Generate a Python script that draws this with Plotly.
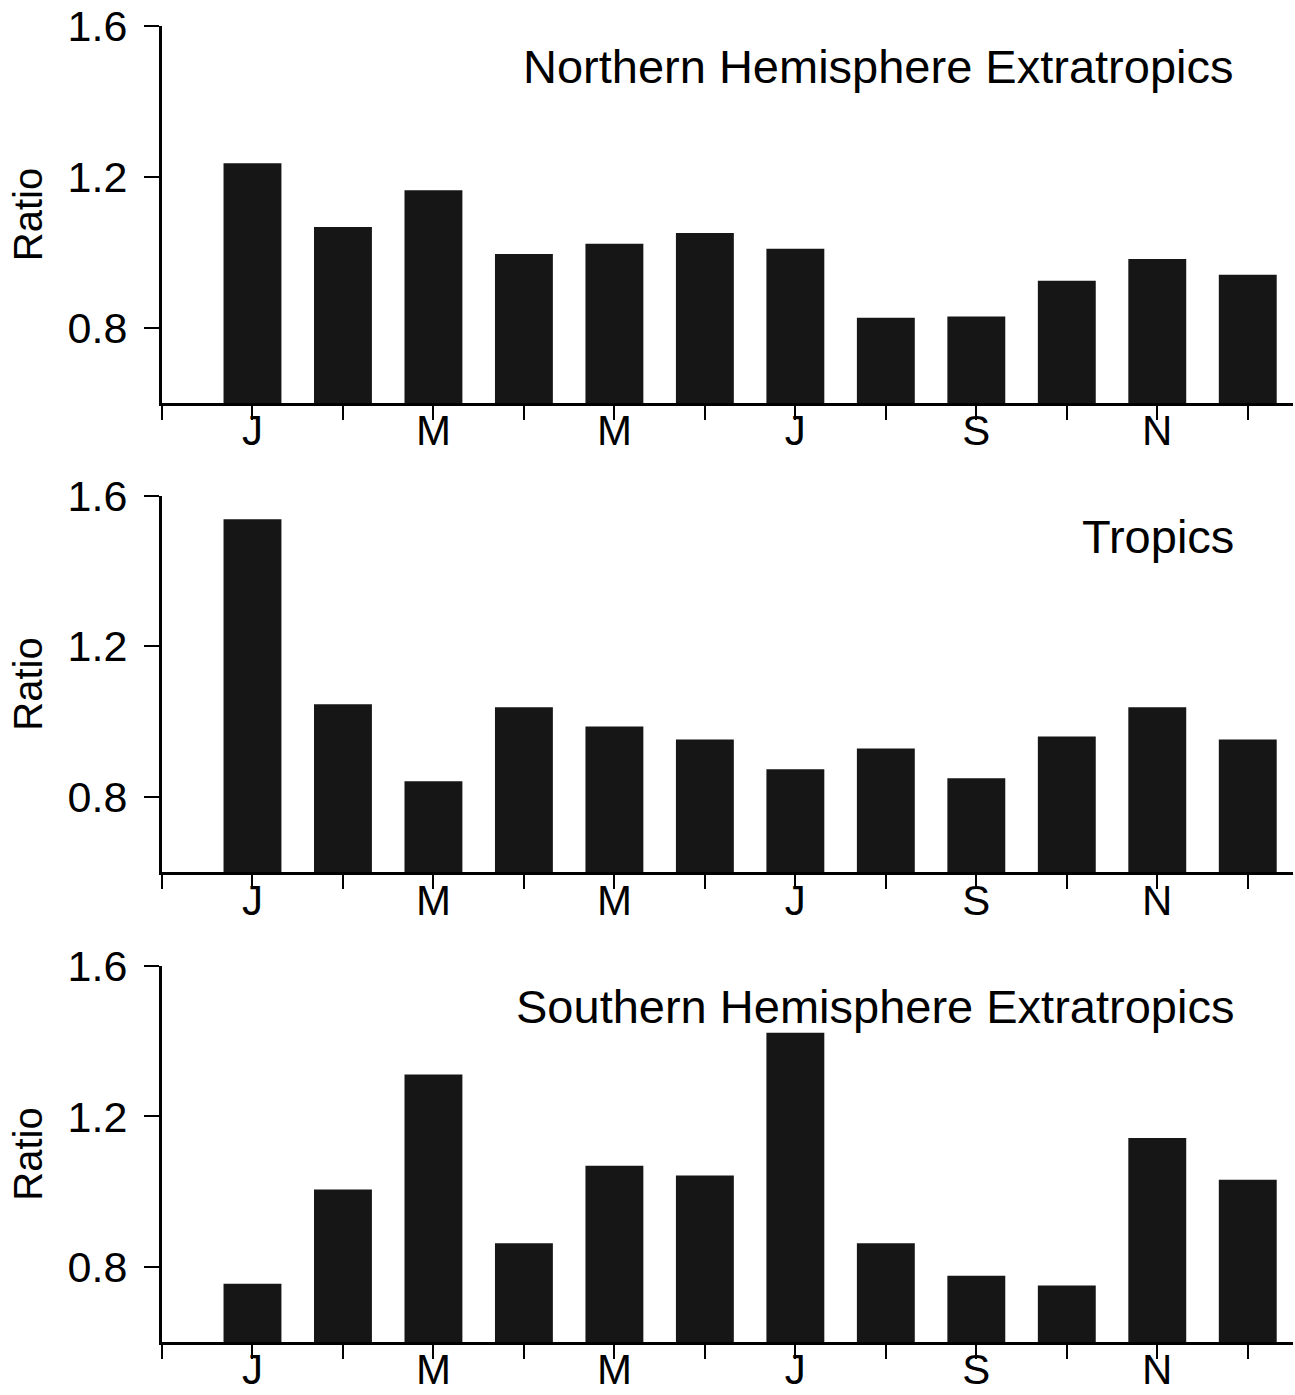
import plotly.graph_objects as go

months = list(range(1, 13))
tick_positions = list(range(0, 13))
tick_labels = ["", "J", "", "M", "", "M", "", "J", "", "S", "", "N", ""]

nh_values = [1.236, 1.067, 1.164, 0.995, 1.022, 1.051, 1.009, 0.826, 0.829, 0.924, 0.982, 0.940]
tr_values = [1.537, 1.046, 0.842, 1.038, 0.987, 0.953, 0.874, 0.929, 0.850, 0.961, 1.038, 0.953]
sh_values = [0.755, 1.006, 1.312, 0.863, 1.069, 1.043, 1.423, 0.863, 0.776, 0.750, 1.143, 1.032]

panel_titles = ["Northern Hemisphere Extratropics", "Tropics", "Southern Hemisphere Extratropics"]
panel_values = [nh_values, tr_values, sh_values]
y_ticks = [0.8, 1.2, 1.6]

domains = [[0.7136, 1.0], [0.3568, 0.6432], [0.0, 0.2856]]

FONT = "Liberation Sans, Arial, Helvetica, sans-serif"
BAR = "#161616"

fig = go.Figure()
layout = dict(
    width=1295, height=1395,
    margin=dict(l=162, r=2, t=22, b=39),
    paper_bgcolor="white", plot_bgcolor="white",
    showlegend=False,
    font=dict(family=FONT, color="black"),
    annotations=[],
)

for i, (vals, title) in enumerate(zip(panel_values, panel_titles)):
    n = "" if i == 0 else str(i + 1)
    fig.add_trace(go.Bar(
        x=months, y=vals,
        xaxis="x" + n, yaxis="y" + n,
        marker=dict(color=BAR, line=dict(width=0)),
        width=0.64,
    ))
    layout["xaxis" + n] = dict(
        domain=[0, 1], anchor="y" + n,
        range=[0, 12.5],
        tickmode="array", tickvals=tick_positions, ticktext=tick_labels,
        ticks="outside", ticklen=14, tickwidth=2, tickcolor="black",
        showline=True, linewidth=3, linecolor="black",
        showgrid=False, zeroline=False,
        tickfont=dict(size=42, family=FONT, color="black"),
        ticklabelstandoff=-25,
    )
    layout["yaxis" + n] = dict(
        domain=domains[i], anchor="x" + n,
        range=[0.6, 1.6],
        tickmode="array", tickvals=y_ticks, ticktext=["0.8", "1.2", "1.6"],
        ticks="outside", ticklen=15, tickwidth=2, tickcolor="black",
        showline=True, linewidth=3, linecolor="black",
        showgrid=False, zeroline=False,
        tickfont=dict(size=43, family=FONT, color="black"),
        ticklabelstandoff=8,
        title=dict(text="Ratio", font=dict(size=40, family=FONT, color="black"), standoff=13),
    )
    layout["annotations"].append(dict(
        text=title, xref="x" + n + " domain", yref="y" + n + " domain",
        x=0.9496, y=0.892, xanchor="right", yanchor="middle",
        showarrow=False, font=dict(size=47, family=FONT, color="black"),
    ))

fig.update_layout(**layout)
fig.write_html(
    "out.html",
    config={"displayModeBar": False},
    post_script="document.body.style.margin='0';document.body.style.overflow='hidden';",
)
